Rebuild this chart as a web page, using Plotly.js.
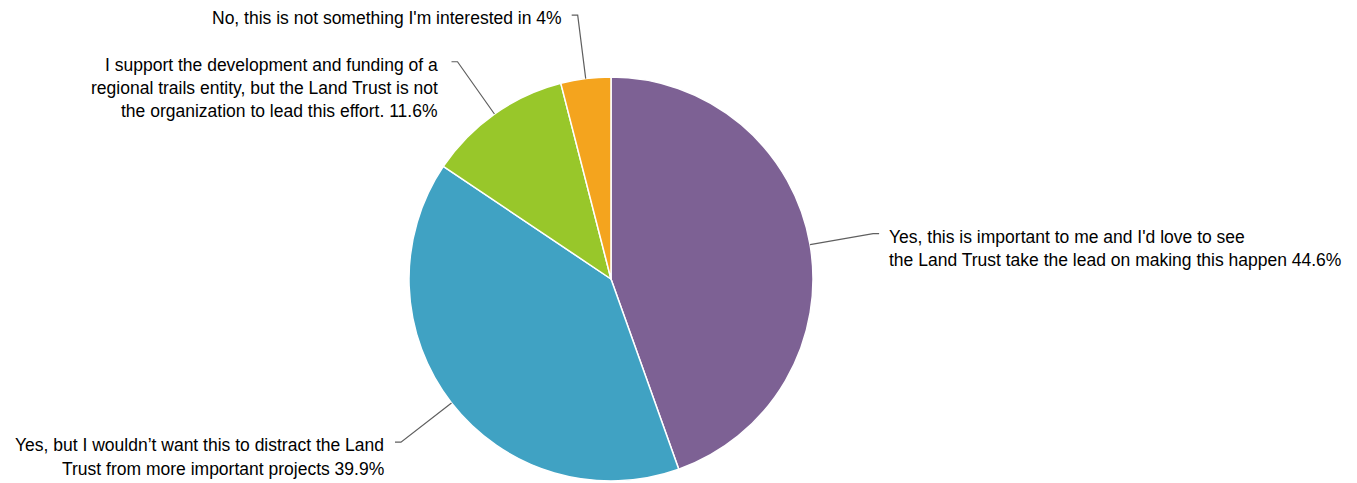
<!DOCTYPE html>
<html>
<head>
<meta charset="utf-8">
<script src="https://cdn.plot.ly/plotly-3.0.1.min.js"></script>
<style>html,body{margin:0;padding:0;background:#fff;}#chart{width:1357px;height:483px;}</style>
</head>
<body>
<div id="chart"></div>
<script>
// ---- data ----
const categories = [
  "Yes, this is important to me and I'd love to see<br>the Land Trust take the lead on making this happen",
  "Yes, but I wouldn’t want this to distract the Land<br>Trust from more important projects",
  "I support the development and funding of a<br>regional trails entity, but the Land Trust is not<br>the organization to lead this effort.",
  "No, this is not something I'm interested in"
];
const values = [44.6, 39.9, 11.6, 4];
const colors = ["#7D6194", "#40A2C3", "#98C72A", "#F4A41E"];

// ---- layout constants ----
const W = 1357, H = 483;
const CX = 611, CY = 279, R = 202;
const LEAD = 64, TICK = 6, GAP = 8, LINE_H = 23.3;
const FONT = {family: "Liberation Sans, Arial, sans-serif", size: 17.5, color: "#000000"};
const nudgeX = [0, -1, -3, 0];

const px = x => x / W;
const py = y => 1 - y / H;

const total = values.reduce((a, b) => a + b, 0);
const shapes = [];
const annotations = [];
let cum = 0;
values.forEach((v, i) => {
  const mid = (cum + v / 2) / total * 2 * Math.PI;
  cum += v;
  const dx = Math.sin(mid), dy = -Math.cos(mid);
  const x0 = CX + R * dx, y0 = CY + R * dy;
  const x1 = CX + (R + LEAD) * dx, y1 = CY + (R + LEAD) * dy;
  const right = dx >= 0;
  const x2 = x1 + (right ? TICK : -TICK);
  shapes.push({
    type: "path", xref: "paper", yref: "paper",
    path: `M ${px(x0)} ${py(y0)} L ${px(x1)} ${py(y1)} L ${px(x2)} ${py(y1)}`,
    line: {color: "#5f5f5f", width: 1.2}
  });
  const lines = categories[i].split("<br>");
  lines[lines.length - 1] += " " + v + "%";
  const tx = (right ? x2 + GAP : x2 - GAP) + nudgeX[i];
  lines.forEach((t, k) => {
    annotations.push({
      xref: "paper", yref: "paper",
      x: px(tx), y: py(y1 + 3 + k * LINE_H),
      xanchor: right ? "left" : "right", yanchor: "middle",
      text: t, showarrow: false, font: FONT, align: right ? "left" : "right"
    });
  });
});

const trace = {
  type: "pie",
  values: values,
  labels: categories,
  marker: {colors: colors, line: {color: "#ffffff", width: 1.5}},
  sort: false,
  direction: "clockwise",
  rotation: 0,
  textinfo: "none",
  hoverinfo: "label+percent",
  domain: {x: [px(CX - R), px(CX + R)], y: [py(CY + R), py(CY - R)]}
};

Plotly.newPlot("chart", [trace], {
  width: W, height: H,
  margin: {l: 0, r: 0, t: 0, b: 0},
  showlegend: false,
  paper_bgcolor: "#ffffff",
  plot_bgcolor: "#ffffff",
  shapes: shapes,
  annotations: annotations
}, {staticPlot: true});
</script>
</body>
</html>
